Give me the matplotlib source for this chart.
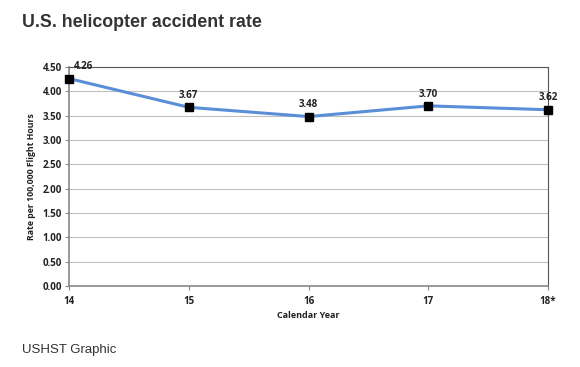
import matplotlib
matplotlib.use("Agg")
import matplotlib.pyplot as plt

years = [14, 15, 16, 17, 18]
year_labels = ["14", "15", "16", "17", "18*"]
rates = [4.26, 3.67, 3.48, 3.70, 3.62]
rate_labels = ["4.26", "3.67", "3.48", "3.70", "3.62"]
yticks = [0.0, 0.5, 1.0, 1.5, 2.0, 2.5, 3.0, 3.5, 4.0, 4.5]

fig = plt.figure(figsize=(5.8, 3.67), dpi=100)
ax = fig.add_axes([0.119, 0.2207, 0.826, 0.597])

ax.plot(years, rates, color="#5A8ED6", lw=2.2, marker="s", ms=5.5,
        mfc="black", mec="black", zorder=3, clip_on=False)
for x, y, t in zip(years, rates, rate_labels):
    dx = 0.12 if x == years[0] else 0
    ax.text(x + dx, y + 0.13, t, ha="center", va="bottom", fontsize=7,
            fontweight="bold", family="Open Sans", color="#222222")

ax.set_xlim(14, 18)
ax.set_ylim(0, 4.5)
ax.set_xticks(years)
ax.set_xticklabels(year_labels)
ax.set_yticks(yticks)
ax.set_yticklabels([f"{v:.2f}" for v in yticks])
ax.grid(axis="y", color="#BFBFBF", lw=0.8)
ax.set_axisbelow(True)
for lab in ax.get_xticklabels() + ax.get_yticklabels():
    lab.set_fontsize(7)
    lab.set_fontweight("bold")
    lab.set_family("Open Sans")
    lab.set_color("#222222")
ax.tick_params(axis="both", length=3, color="#888888", width=0.8, pad=2)
ax.tick_params(axis="x", pad=4)
for s in ["left", "bottom"]:
    ax.spines[s].set_color("#888888")
    ax.spines[s].set_linewidth(1.2)
for s in ["top", "right"]:
    ax.spines[s].set_color("#555555")
    ax.spines[s].set_linewidth(0.8)
ax.set_xlabel("Calendar Year", fontsize=6.5, fontweight="bold", family="Open Sans",
              color="#222222", labelpad=3)
ax.set_ylabel("Rate per 100,000 Flight Hours", fontsize=6.3, fontweight="bold",
              family="Open Sans", color="#222222", labelpad=5)

fig.text(0.038, 0.94, "U.S. helicopter accident rate", fontsize=12.8, fontweight="bold",
         family="Liberation Sans", color="#333333", va="center")
fig.text(0.038, 0.047, "USHST Graphic", fontsize=9.5, family="Liberation Sans",
         color="#333333", va="center")

fig.savefig("out.png", dpi=100)
